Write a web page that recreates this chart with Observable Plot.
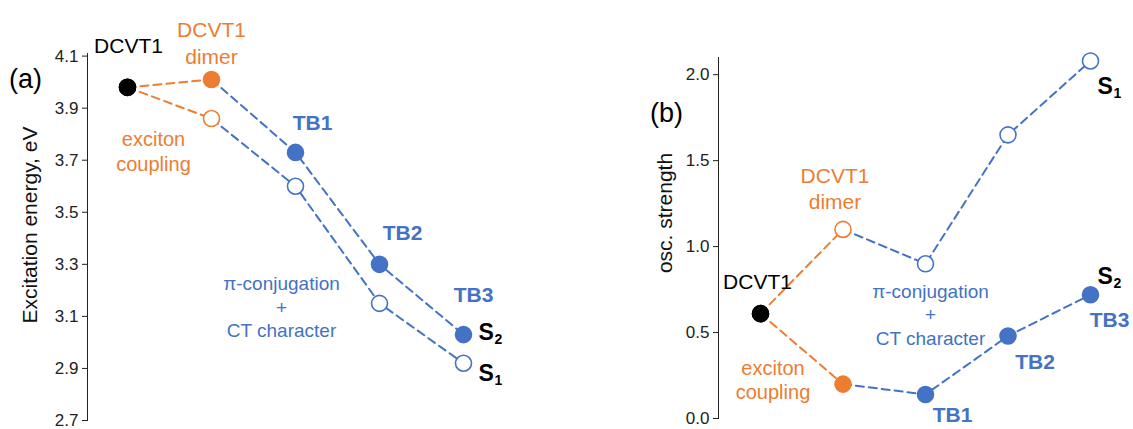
<!DOCTYPE html>
<html>
<head>
<meta charset="utf-8">
<script src="https://cdn.jsdelivr.net/npm/d3@7"></script>
<script src="https://cdn.jsdelivr.net/npm/@observablehq/plot@0.6"></script>
<style>
  html, body { margin: 0; padding: 0; background: white; }
  #wrap { position: relative; width: 1133px; height: 429px; overflow: hidden; background: white; }
  #wrap svg { position: absolute; top: 0; }
</style>
</head>
<body>
<div id="wrap"></div>
<script>
// ---- data ----
const species = ["DCVT1", "DCVT1 dimer", "TB1", "TB2", "TB3"];
const energyS1 = [3.98, 3.86, 3.60, 3.15, 2.92];   // open circles
const energyS2 = [3.98, 4.01, 3.73, 3.30, 3.03];   // filled circles
const oscS1 = [0.61, 1.10, 0.90, 1.65, 2.08];      // open circles
const oscS2 = [0.61, 0.20, 0.14, 0.48, 0.72];      // filled circles
const energyTicks = [2.7, 2.9, 3.1, 3.3, 3.5, 3.7, 3.9, 4.1];
const oscTicks = [0.0, 0.5, 1.0, 1.5, 2.0];
const energyDomain = [2.7, 4.11];
const oscDomain = [0, 2.1];

const ORANGE = "#ED7D31", BLUE = "#4472C4", BLACK = "#000000";
const FONT = "'Liberation Sans', Arial, Helvetica, sans-serif";

function rows(s1, s2) {
  return species.flatMap((name, i) => [
    {i, name, state: "S1", v: s1[i]},
    {i, name, state: "S2", v: s2[i]}
  ]);
}
const col = i => i === 0 ? BLACK : i === 1 ? ORANGE : BLUE;

function seriesMarks(data) {
  return [
    Plot.line(data.filter(d => d.i <= 1), {x: "i", y: "v", z: "state", stroke: ORANGE, strokeWidth: 2, strokeDasharray: "8,5"}),
    Plot.line(data.filter(d => d.i >= 1), {x: "i", y: "v", z: "state", stroke: BLUE, strokeWidth: 2, strokeDasharray: "8,5"}),
    Plot.dot(data, {x: "i", y: "v", r: 8,
      fill: d => (d.state === "S2" || d.i === 0) ? col(d.i) : "white",
      stroke: d => col(d.i), strokeWidth: 1.6})
  ];
}

function label(i, arr, text, opts) {
  return Plot.text([{i, v: arr[i]}], {x: "i", y: "v", text: () => text, ...opts});
}
function sLabel(i, arr, sub, dx, dy) {
  return [
    label(i, arr, "S", {dx, dy, textAnchor: "start", fontSize: 23, fontWeight: "bold", fill: BLACK}),
    label(i, arr, sub, {dx: dx + 16, dy: dy + 7, textAnchor: "start", fontSize: 14, fontWeight: "bold", fill: BLACK})
  ];
}

// ---- panel (a) ----
const dataA = rows(energyS1, energyS2);
const plotA = Plot.plot({
  width: 566, height: 429,
  marginLeft: 87, marginTop: 53, marginBottom: 9, marginRight: 0,
  style: {fontFamily: FONT, fontSize: "17px", color: "#222", background: "transparent", overflow: "visible"},
  x: {domain: [0, 4], range: [127, 463], axis: null},
  y: {domain: energyDomain, ticks: energyTicks, tickFormat: d3.format(".1f"), tickSize: 5, tickPadding: 4, line: true, label: null},
  marks: [
    ...seriesMarks(dataA),
    Plot.text(["Excitation energy, eV"], {frameAnchor: "left", textAnchor: "middle", lineAnchor: "middle", rotate: -90, dx: -57, dy: -12, fontSize: 21, fill: "#111"}),
    Plot.text(["(a)"], {frameAnchor: "top-left", textAnchor: "middle", lineAnchor: "middle", dx: -62, dy: 26, fontSize: 27, fill: BLACK}),
    label(0, energyS2, "DCVT1", {dx: 1, dy: -41, fontSize: 21, fill: BLACK}),
    label(1, energyS2, "DCVT1\ndimer", {dx: 0, dy: -38, fontSize: 21, lineHeight: 1.33, fill: ORANGE}),
    label(0, energyS2, "exciton\ncoupling", {dx: 26, dy: 63, fontSize: 20, lineHeight: 1.25, fill: ORANGE}),
    label(2, energyS2, "TB1", {dx: 17, dy: -29, fontSize: 21, fontWeight: "bold", fill: BLUE}),
    label(3, energyS2, "TB2", {dx: 23, dy: -31, fontSize: 21, fontWeight: "bold", fill: BLUE}),
    label(4, energyS2, "TB3", {dx: 10, dy: -39, fontSize: 21, fontWeight: "bold", fill: BLUE}),
    ...sLabel(4, energyS2, "2", 15, -2),
    ...sLabel(4, energyS1, "1", 15, 10),
    label(2, energyS1, "\u03c0-conjugation\n+\nCT character", {dx: -14, dy: 120, fontSize: 19, lineHeight: 1.24, fill: BLUE})
  ]
});
plotA.style.left = "0px";

// ---- panel (b) ----
const dataB = rows(oscS1, oscS2);
const plotB = Plot.plot({
  width: 567, height: 429,
  marginLeft: 152, marginTop: 57, marginBottom: 11, marginRight: 0,
  style: {fontFamily: FONT, fontSize: "17px", color: "#222", background: "transparent", overflow: "visible"},
  x: {domain: [0, 4], range: [194, 524], axis: null},
  y: {domain: oscDomain, ticks: oscTicks, tickFormat: d3.format(".1f"), tickSize: 5, tickPadding: 4, line: true, label: null},
  marks: [
    ...seriesMarks(dataB),
    Plot.text(["osc. strength"], {frameAnchor: "left", textAnchor: "middle", lineAnchor: "middle", rotate: -90, dx: -53, dy: -25, fontSize: 21, fill: "#111"}),
    Plot.text(["(b)"], {frameAnchor: "top-left", textAnchor: "middle", lineAnchor: "middle", dx: -52, dy: 56, fontSize: 27, fill: BLACK}),
    label(0, oscS2, "DCVT1", {dx: -3, dy: -31, fontSize: 21, fill: BLACK}),
    label(1, oscS1, "DCVT1\ndimer", {dx: -8, dy: -42, fontSize: 21, lineHeight: 1.24, fill: ORANGE}),
    label(1, oscS2, "exciton\ncoupling", {dx: -70, dy: -5, fontSize: 20, lineHeight: 1.2, fill: ORANGE}),
    label(2, oscS2, "TB1", {dx: 27, dy: 21, fontSize: 21, fontWeight: "bold", fill: BLUE}),
    label(3, oscS2, "TB2", {dx: 27, dy: 26, fontSize: 21, fontWeight: "bold", fill: BLUE}),
    label(4, oscS2, "TB3", {dx: 19, dy: 26, fontSize: 21, fontWeight: "bold", fill: BLUE}),
    ...sLabel(4, oscS1, "1", 7, 26),
    ...sLabel(4, oscS2, "2", 7, -18),
    label(2, oscS1, "\u03c0-conjugation\n+\nCT character", {dx: 5, dy: 50, fontSize: 19, lineHeight: 1.24, fill: BLUE})
  ]
});
plotB.style.left = "566px";

const wrap = document.getElementById("wrap");
wrap.appendChild(plotA);
wrap.appendChild(plotB);
</script>
</body>
</html>
